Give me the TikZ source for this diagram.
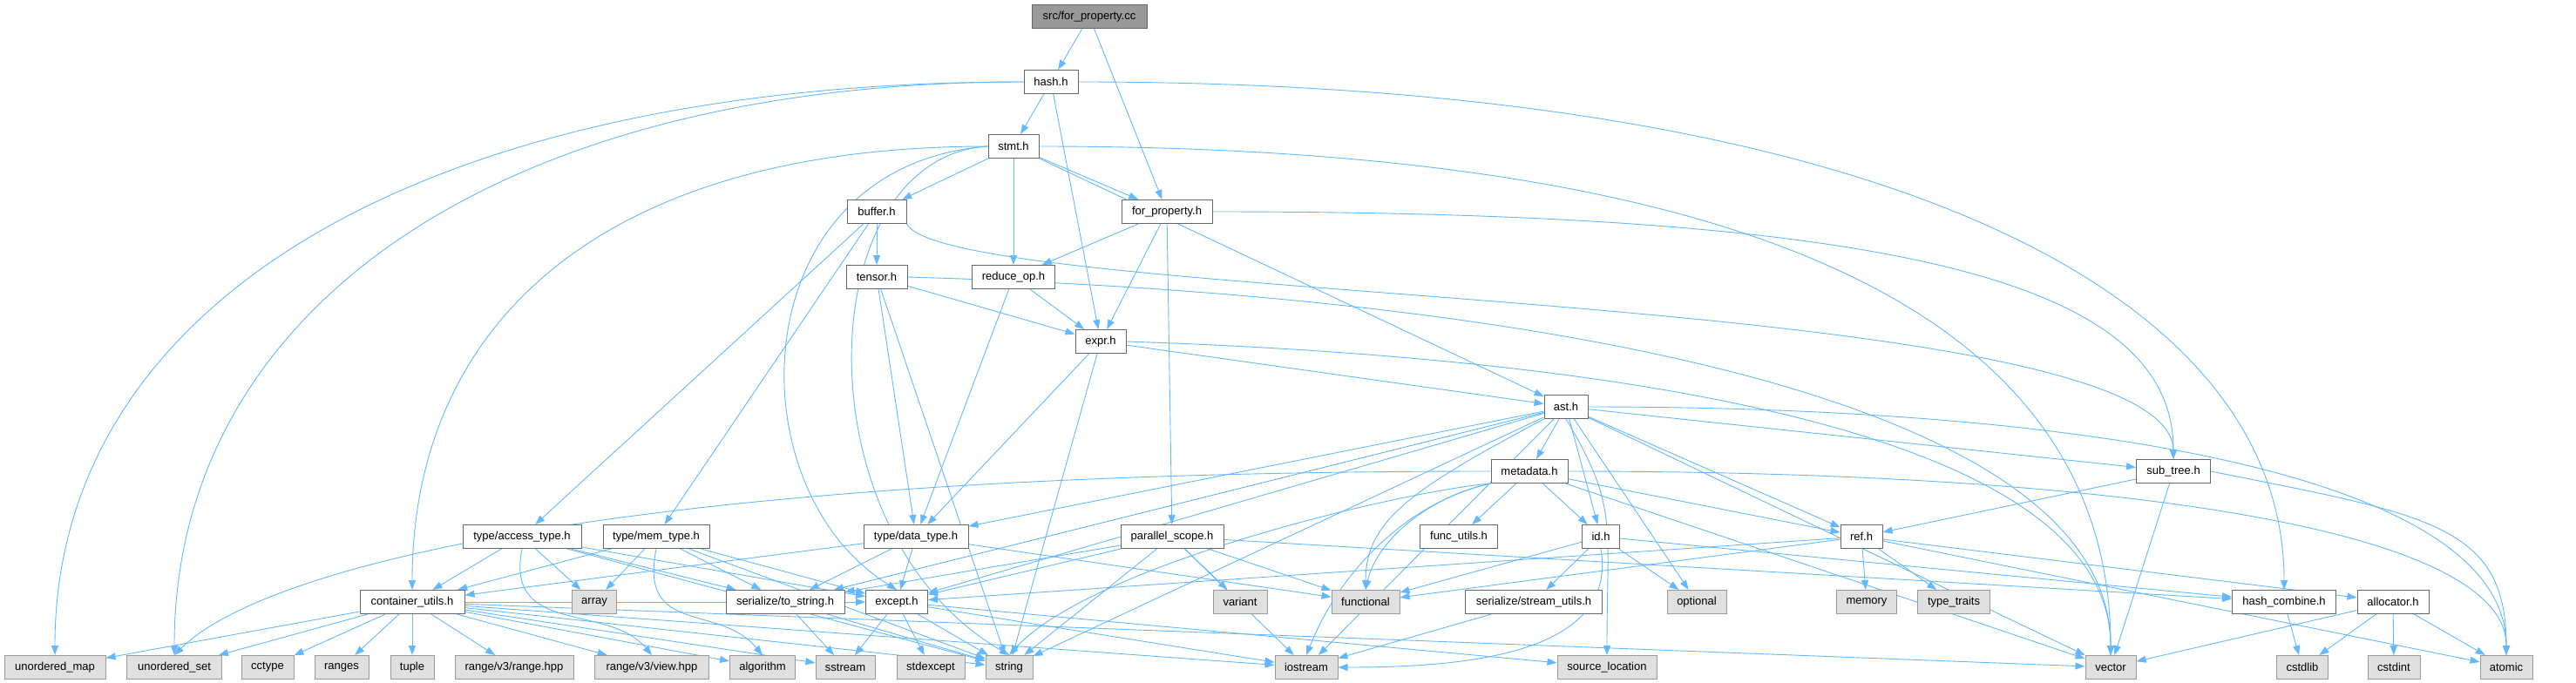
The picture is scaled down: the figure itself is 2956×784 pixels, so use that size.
\documentclass[tikz,border=0pt]{standalone}
\usepackage{fontspec}
\setmainfont{Liberation Sans}
\usepackage{tikz}
\usetikzlibrary{arrows.meta,backgrounds}

\definecolor{depblue}{HTML}{63B8FF}
\definecolor{nodeedge}{HTML}{666666}
\definecolor{sysedge}{HTML}{999999}
\definecolor{sysfill}{HTML}{E0E0E0}
\definecolor{rootfill}{HTML}{999999}

\tikzset{
  hdr/.style={draw=nodeedge,fill=white,line width=1pt,minimum height=27pt,
    inner xsep=3pt,inner ysep=0pt,font=\fontsize{13}{15}\selectfont},
  syshdr/.style={hdr,draw=sysedge,fill=sysfill},
  roothdr/.style={hdr,fill=rootfill},
  dep/.style={draw=depblue,line width=0.9pt,-{Stealth[length=11pt,width=8pt,inset=0pt]}}
}

\begin{document}
\begin{tikzpicture}[x=1pt,y=-1pt]
    \useasboundingbox (0,0) rectangle (2956,784);
    % own headers
    \node[roothdr,minimum width=132] (root) at (1250,19) {src/for\_property.cc};
    \node[hdr,minimum width=62] (hash) at (1206,94) {hash.h};
    \node[hdr,minimum width=58] (stmt) at (1163,168) {stmt.h};
    \node[hdr,minimum width=68] (buffer) at (1006,243) {buffer.h};
    \node[hdr,minimum width=104] (forprop) at (1339,243) {for\_property.h};
    \node[hdr,minimum width=70] (tensor) at (1006,318) {tensor.h};
    \node[hdr,minimum width=95] (reduceop) at (1163,318) {reduce\_op.h};
    \node[hdr,minimum width=58] (expr) at (1263,392) {expr.h};
    \node[hdr,minimum width=50] (ast) at (1797,467) {ast.h};
    \node[hdr,minimum width=88] (metadata) at (1755,541) {metadata.h};
    \node[hdr,minimum width=85] (subtree) at (2494,541) {sub\_tree.h};
    \node[hdr,minimum width=136] (accesstype) at (599,616) {type/access\_type.h};
    \node[hdr,minimum width=122] (memtype) at (753,616) {type/mem\_type.h};
    \node[hdr,minimum width=120] (datatype) at (1051,616) {type/data\_type.h};
    \node[hdr,minimum width=118] (parscope) at (1345,616) {parallel\_scope.h};
    \node[hdr,minimum width=89] (funcutils) at (1674,616) {func\_utils.h};
    \node[hdr,minimum width=43] (id) at (1837,616) {id.h};
    \node[hdr,minimum width=48] (ref) at (2136,616) {ref.h};
    \node[hdr,minimum width=120] (contutils) at (473,691) {container\_utils.h};
    \node[hdr,minimum width=136] (tostring) at (901,691) {serialize/to\_string.h};
    \node[hdr,minimum width=71] (except) at (1029,691) {except.h};
    \node[hdr,minimum width=157] (streamutils) at (1760,691) {serialize/stream\_utils.h};
    \node[hdr,minimum width=119] (hashcomb) at (2621,691) {hash\_combine.h};
    \node[hdr,minimum width=82] (allocator) at (2746,691) {allocator.h};
    % system headers
    \node[syshdr,minimum width=51] (array) at (682,691) {array};
    \node[syshdr,minimum width=62] (variant) at (1423,691) {variant};
    \node[syshdr,minimum width=78] (functional) at (1567,691) {functional};
    \node[syshdr,minimum width=68] (optional) at (1947,691) {optional};
    \node[syshdr,minimum width=69] (memory) at (2142,691) {memory};
    \node[syshdr,minimum width=83] (typetraits) at (2242,691) {type\_traits};
    \node[syshdr,minimum width=116] (umap) at (63,766) {unordered\_map};
    \node[syshdr,minimum width=109] (uset) at (200,766) {unordered\_set};
    \node[syshdr,minimum width=60] (cctype) at (307,766) {cctype};
    \node[syshdr,minimum width=62] (ranges) at (392,766) {ranges};
    \node[syshdr,minimum width=50] (tuple) at (473,766) {tuple};
    \node[syshdr,minimum width=136] (rangehpp) at (590,766) {range/v3/range.hpp};
    \node[syshdr,minimum width=131] (viewhpp) at (748,766) {range/v3/view.hpp};
    \node[syshdr,minimum width=75] (algorithm) at (875,766) {algorithm};
    \node[syshdr,minimum width=68] (sstream) at (970,766) {sstream};
    \node[syshdr,minimum width=78] (stdexcept) at (1068,766) {stdexcept};
    \node[syshdr,minimum width=54] (string) at (1158,766) {string};
    \node[syshdr,minimum width=72] (iostream) at (1499,766) {iostream};
    \node[syshdr,minimum width=114] (sourceloc) at (1844,766) {source\_location};
    \node[syshdr,minimum width=58] (vector) at (2422,766) {vector};
    \node[syshdr,minimum width=59] (cstdlib) at (2642,766) {cstdlib};
    \node[syshdr,minimum width=60] (cstdint) at (2747,766) {cstdint};
    \node[syshdr,minimum width=60] (atomic) at (2876,766) {atomic};

    \begin{scope}[on background layer]
    % top levels
    \draw[dep] (root) -- (hash);
    \draw[dep] (root) -- (forprop);
    \draw[dep] (hash) -- (stmt);
    \draw[dep] (hash) -- (expr);
    \draw[dep] (hash.west) .. controls +(-700,0) and +(0,-400) .. (umap.north);
    \draw[dep] (hash.west) .. controls +(-600,0) and +(0,-400) .. (uset.north);
    \draw[dep] (hash.east) .. controls +(900,0) and +(0,-350) .. (hashcomb.north);
    \draw[dep] (stmt) -- (buffer);
    \draw[dep] (stmt) -- (reduceop);
    \draw[dep] (stmt) -- (forprop);
    \draw[dep] (stmt) -- (ast);
    \draw[dep] (stmt.east) .. controls +(900,0) and +(0,-350) .. (vector.north);
    \draw[dep] (stmt.west) .. controls +(-450,0) and +(0,-300) .. (contutils.north);
    \draw[dep] (stmt.west) .. controls (850,190) and (840,560) .. (except.north);
    \draw[dep] (stmt.west) .. controls (930,180) and (915,610) .. (string.north);
    \draw[dep] (forprop) -- (reduceop);
    \draw[dep] (forprop) -- (expr);
    \draw[dep] (forprop) -- (parscope);
    \draw[dep] (forprop.east) .. controls +(800,0) and +(0,-200) .. (subtree.north);
    \draw[dep] (buffer) -- (tensor);
    \draw[dep] (buffer) -- (accesstype);
    \draw[dep] (buffer) -- (memtype);
    \draw[dep] (buffer.south east) .. controls (1090,350) and (2490,330) .. (subtree.north);
    \draw[dep] (tensor) -- (expr);
    \draw[dep] (tensor) -- (datatype);
    \draw[dep] (tensor) -- (string);
    \draw[dep] (tensor.east) .. controls +(700,20) and +(0,-300) .. (vector.north);
    \draw[dep] (reduceop) -- (expr);
    \draw[dep] (reduceop) -- (datatype);
    \draw[dep] (expr) -- (ast);
    \draw[dep] (expr) -- (datatype);
    \draw[dep] (expr) -- (string);
    \draw[dep] (expr.east) .. controls +(600,20) and +(0,-250) .. (vector.north);
    % ast.h and below
    \draw[dep] (ast) -- (metadata);
    \draw[dep] (ast) -- (id);
    \draw[dep] (ast) -- (optional);
    \draw[dep] (ast.south west) .. controls +(-150,80) and +(0,-80) .. (functional.north);
    \draw[dep] (ast) -- (iostream);
    \draw[dep] (ast) -- (string);
    \draw[dep] (ast.south) .. controls +(60,100) and +(0,-150) .. (sourceloc.north);
    \draw[dep] (ast) -- (ref);
    \draw[dep] (ast) -- (subtree);
    \draw[dep] (ast.east) .. controls +(600,0) and +(0,-200) .. (atomic.north);
    \draw[dep] (ast) -- (datatype);
    \draw[dep] (ast) -- (tostring);
    \draw[dep] (ast) -- (except);
    \draw[dep] (ast) -- (vector);
    \draw[dep] (metadata) -- (funcutils);
    \draw[dep] (metadata) -- (id);
    \draw[dep] (metadata.south west) .. controls (1640,570) and (1580,620) .. (functional.north);
    \draw[dep] (metadata.south west) .. controls (1620,575) and (1540,650) .. (iostream.north);
    \draw[dep] (metadata.south west) .. controls (1600,565) and (1250,650) .. (string.north);
    \draw[dep] (metadata.west) .. controls +(-1000,0) and +(100,-100) .. (uset.north);
    \draw[dep] (metadata) -- (ref);
    \draw[dep] (metadata) -- (vector);
    \draw[dep] (metadata.east) .. controls +(600,0) and +(0,-150) .. (atomic.north);
    \draw[dep] (subtree) -- (ref);
    \draw[dep] (subtree) -- (vector);
    \draw[dep] (subtree.east) .. controls +(250,50) and +(0,-150) .. (atomic.north);
    \draw[dep] (ref) -- (memory);
    \draw[dep] (ref) -- (typetraits);
    \draw[dep] (ref) -- (functional);
    \draw[dep] (ref) -- (allocator);
    \draw[dep] (ref) -- (atomic);
    \draw[dep] (ref) -- (except);
    \draw[dep] (id) -- (functional);
    \draw[dep] (id) -- (optional);
    \draw[dep] (id) -- (streamutils);
    \draw[dep] (id.south) .. controls +(20,120) and +(150,0) .. (iostream.east);
    \draw[dep] (id) -- (hashcomb);
    \draw[dep] (streamutils) -- (iostream);
    \draw[dep] (parscope) -- (except);
    \draw[dep] (parscope) -- (tostring);
    \draw[dep] (parscope) -- (string);
    \draw[dep] (parscope) -- (iostream);
    \draw[dep] (parscope) -- (variant);
    \draw[dep] (parscope) -- (functional);
    \draw[dep] (parscope) -- (hashcomb);
    % type headers
    \draw[dep] (datatype) -- (contutils);
    \draw[dep] (datatype) -- (tostring);
    \draw[dep] (datatype) -- (except);
    \draw[dep] (datatype) -- (functional);
    \draw[dep] (accesstype) -- (contutils);
    \draw[dep] (accesstype) -- (array);
    \draw[dep] (accesstype) -- (tostring);
    \draw[dep] (accesstype) -- (except);
    \draw[dep] (accesstype) -- (string);
    \draw[dep] (accesstype.south) .. controls +(-20,100) and +(-50,-60) .. (viewhpp.north);
    \draw[dep] (memtype) -- (contutils);
    \draw[dep] (memtype) -- (array);
    \draw[dep] (memtype) -- (tostring);
    \draw[dep] (memtype) -- (except);
    \draw[dep] (memtype) -- (string);
    \draw[dep] (memtype.south) .. controls +(-20,100) and +(-50,-60) .. (algorithm.north);
    % container_utils.h
    \draw[dep] (contutils) -- (umap);
    \draw[dep] (contutils) -- (uset);
    \draw[dep] (contutils) -- (cctype);
    \draw[dep] (contutils) -- (ranges);
    \draw[dep] (contutils) -- (tuple);
    \draw[dep] (contutils) -- (rangehpp);
    \draw[dep] (contutils) -- (viewhpp);
    \draw[dep] (contutils) -- (algorithm);
    \draw[dep] (contutils) -- (sstream);
    \draw[dep] (contutils) -- (string);
    \draw[dep] (contutils) -- (iostream);
    \draw[dep] (contutils) -- (vector);
    \draw[dep] (contutils) -- (except);
    \draw[dep] (tostring) -- (sstream);
    \draw[dep] (tostring) -- (string);
    \draw[dep] (except) -- (sstream);
    \draw[dep] (except) -- (stdexcept);
    \draw[dep] (except) -- (string);
    \draw[dep] (except) -- (iostream);
    \draw[dep] (except) -- (sourceloc);
    \draw[dep] (hashcomb) -- (cstdlib);
    \draw[dep] (allocator) -- (cstdlib);
    \draw[dep] (allocator) -- (cstdint);
    \draw[dep] (allocator) -- (atomic);
    \draw[dep] (allocator) -- (vector);
    \end{scope}
\end{tikzpicture}
\end{document}
